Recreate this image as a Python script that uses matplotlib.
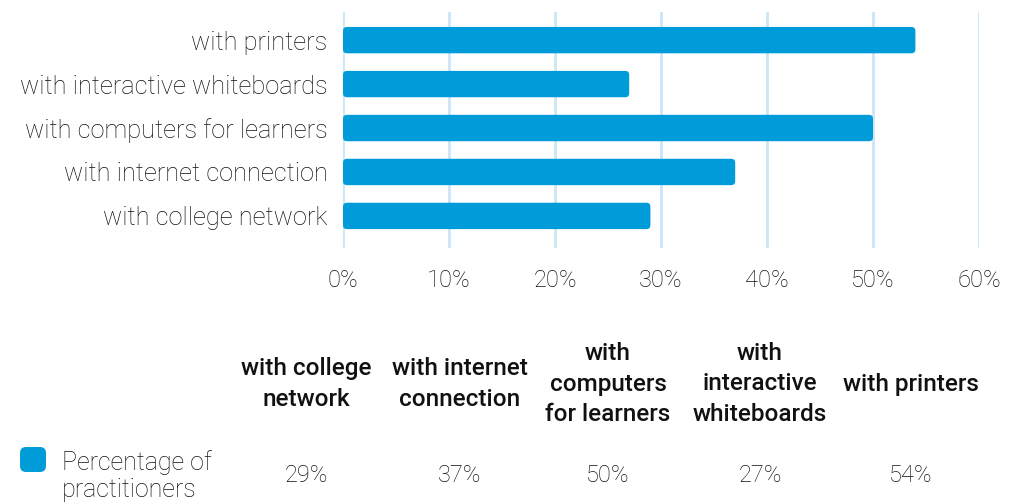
import matplotlib.pyplot as plt
from matplotlib.patches import FancyBboxPatch

categories = ['with college network', 'with internet connection',
              'with computers for learners', 'with interactive whiteboards',
              'with printers']
headers = ['with college\nnetwork', 'with internet\nconnection',
           'with\ncomputers\nfor learners', 'with\ninteractive\nwhiteboards',
           'with printers']
values = [29, 37, 50, 27, 54]
xticks = [0, 10, 20, 30, 40, 50, 60]
series_name = 'Percentage of\npractitioners'

bar_color = '#009bd9'
grid_color = '#cce6f7'
text_color = '#111111'

plt.rcParams['font.family'] = ['Roboto', 'DejaVu Sans']

fig = plt.figure(figsize=(10.21, 5.04), dpi=100)
ax = fig.add_axes([343 / 1021, 1 - 248 / 504, (979 - 343) / 1021, (248 - 12) / 504])

ypos = list(range(len(categories)))
bars = ax.barh(ypos, values, height=0.6, color=bar_color)
# swap plain bars for rounded ones
for b in bars:
    b.set_visible(False)
    ax.add_patch(FancyBboxPatch((b.get_x(), b.get_y()), b.get_width(), b.get_height(),
                                boxstyle='round,pad=0,rounding_size=0.38',
                                mutation_aspect=0.24, fc=bar_color, ec='none', zorder=3))

ax.set_xlim(0, 60)
ax.set_ylim(-0.73, 4.64)
ax.set_xticks(xticks)
ax.set_xticklabels([f'{t}%' for t in xticks], fontsize=17, fontweight='light', color=text_color)
ax.set_yticks(ypos)
ax.set_yticklabels(categories, fontsize=18.3, fontweight='light', color=text_color)
ax.tick_params(length=0)
ax.tick_params(axis='x', pad=15)
ax.tick_params(axis='y', pad=11)
ax.grid(axis='x', color=grid_color, linewidth=2, zorder=0)
ax.set_axisbelow(True)
for s in ax.spines.values():
    s.set_visible(False)

# data table under the chart
col_x = [306, 460, 608, 760, 911]
for cx, h, v in zip(col_x, headers, values):
    fig.text(cx / 1021, 1 - 384 / 504, h, ha='center', va='center', fontsize=17.5,
             fontweight='medium', color=text_color, linespacing=1.42)
    fig.text(cx / 1021, 1 - 476 / 504, f'{v}%', ha='center', va='center', fontsize=17,
             fontweight='light', color=text_color)

fig.patches.append(FancyBboxPatch((20 / 1021, 1 - 472 / 504), 26 / 1021, 25 / 504,
                                  boxstyle='round,pad=0,rounding_size=0.006',
                                  mutation_aspect=2.0, transform=fig.transFigure,
                                  fc=bar_color, ec='none', figure=fig))
fig.text(62 / 1021, 1 - 476 / 504, series_name, ha='left', va='center', fontsize=18,
         fontweight='light', color=text_color, linespacing=1.15)

fig.savefig('out.png', dpi=100)
